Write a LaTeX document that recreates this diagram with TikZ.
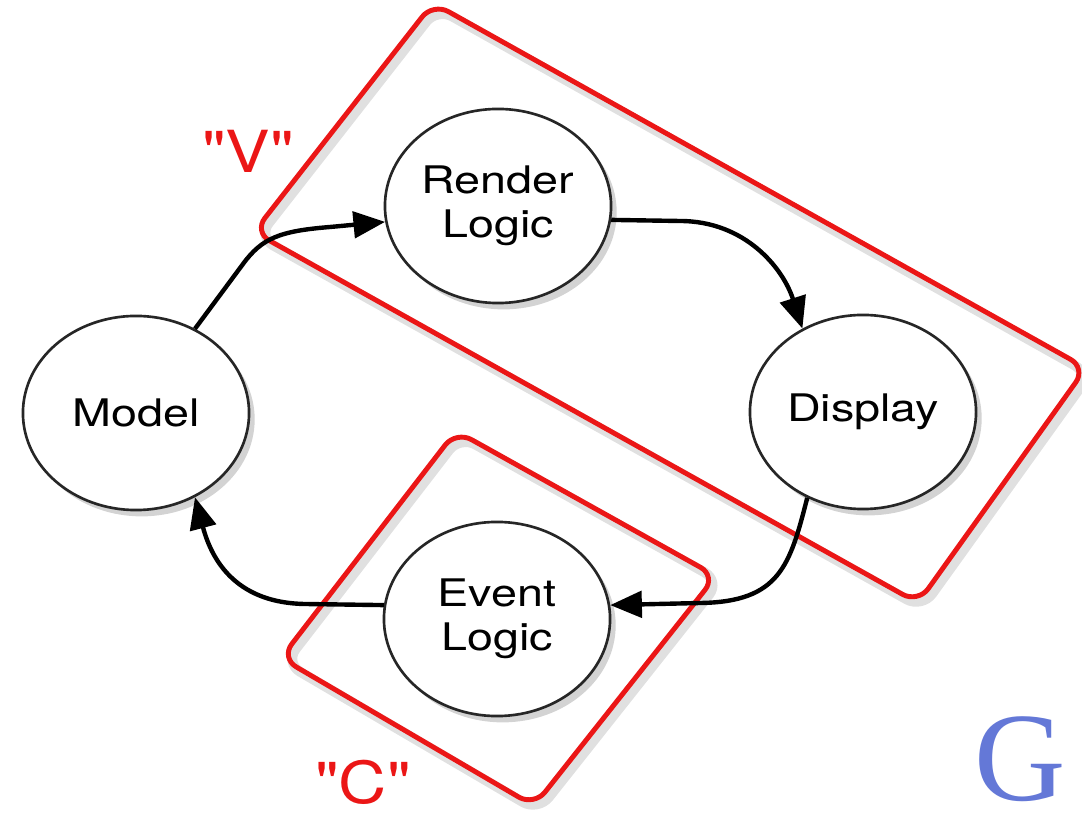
\documentclass[tikz,border=0pt]{standalone}
\usepackage{fontspec}
\setmainfont{TeX Gyre Heros}
\newfontfamily\lblfont[Ligatures=TeXOff]{TeX Gyre Heros}
\newfontfamily\gserif{Liberation Serif}
\usetikzlibrary{shapes.geometric,shadows,arrows.meta}
\definecolor{vred}{RGB}{235,22,22}
\definecolor{gblue}{RGB}{100,120,215}
\newcommand{\sx}[1]{\scalebox{1.23}[1]{#1}}
\begin{document}
\begin{tikzpicture}[x=0.01cm,y=-0.01cm,
  proc/.style={ellipse, draw=black!85, line width=0.75pt, fill=white,
    minimum width=2.26cm, minimum height=1.94cm, inner sep=0pt, align=center,
    font=\fontsize{10.8}{12.4}\selectfont,
    drop shadow={shadow xshift=1.6pt, shadow yshift=-1.8pt, opacity=0.35}},
  flow/.style={line width=1.25pt, -{Triangle[length=9pt,width=7.5pt]}},
  grp/.style={draw=vred, line width=1.4pt, rounded corners=5pt},
  grpshadow/.style={draw=black, opacity=0.12, line width=2.8pt, rounded corners=5pt},
  lbl/.style={text=vred, font=\lblfont\fontsize{16.5}{19}\selectfont, inner sep=0pt, anchor=base}
]
\useasboundingbox (0,0) rectangle (1082,813);

% group boxes
\draw[grpshadow] (258,237) -- (437,8) -- (1090,374) -- (922,608) -- cycle;
\draw[grpshadow] (460,436) -- (720,581) -- (538,811) -- (285,663) -- cycle;
\draw[grp] (254,232) -- (433,3) -- (1086,368) -- (918,603) -- cycle;
\draw[grp] (456,431) -- (716,576) -- (534,806) -- (281,658) -- cycle;

% labels
\node[lbl] (vlab) at (248,173) {\scalebox{1.15}[1]{"V"}};
\node[lbl] (clab) at (363,803) {\scalebox{1.15}[1]{"C"}};
\node[text=gblue, font=\gserif\fontsize{36}{40}\selectfont, inner sep=0pt, anchor=base] (glogo) at (1020,800) {G};

% nodes
\node[proc] (model)   at (136,413) {\sx{Model}};
\node[proc] (render)  at (498,206) {\sx{Render}\\\sx{Logic}};
\node[proc] (display) at (863,412) {\sx{Display}};
\node[proc] (event)   at (497,619) {\sx{Event}\\\sx{Logic}};

% connectors
\draw[flow] (model.55) -- (243,264) .. controls (262,238) and (280,231) .. (330,227) -- (render.188);
\draw[flow] (render.-7) -- (680,221) .. controls (745,221) and (783,268) .. (display.126);
\draw[flow] (display.237) .. controls (790,565) and (780,602) .. (700,603) -- (event.7);
\draw[flow] (event.173) -- (305,604) .. controls (240,603) and (213,565) .. (model.-55);
\end{tikzpicture}
\end{document}
